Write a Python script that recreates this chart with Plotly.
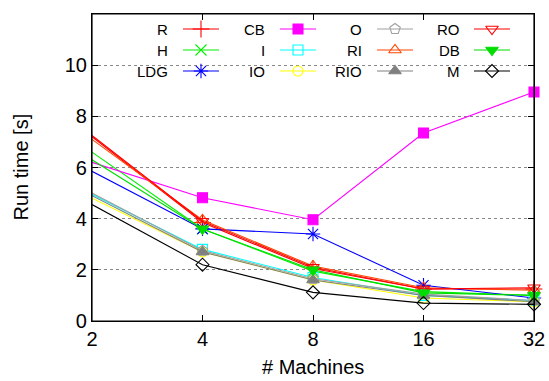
import math
import plotly.graph_objects as go

machines = [2, 4, 8, 16, 32]
tick_labels = ["2", "4", "8", "16", "32"]

R   = [7.20, 3.85, 2.05, 1.25, 1.25]
H   = [6.60, 3.60, 1.95, 1.15, 1.00]
LDG = [5.85, 3.60, 3.40, 1.40, 0.90]
CB  = [6.20, 4.82, 3.96, 7.35, 8.95]
I   = [4.95, 2.80, 1.70, 1.00, 0.80]
IO  = [4.80, 2.70, 1.60, 0.90, 0.75]
O   = [5.00, 2.75, 1.65, 1.05, 0.80]
RI  = [7.10, 3.95, 2.15, 1.30, 1.20]
RIO = [4.90, 2.70, 1.60, 1.00, 0.75]
RO  = [7.25, 3.90, 2.10, 1.25, 1.30]
DB  = [6.30, 3.60, 2.00, 1.10, 1.00]
M   = [4.55, 2.20, 1.12, 0.70, 0.65]

series = [
    ("R", R, "#ff0000", "cross-thin", 12),
    ("H", H, "#00ee00", "x-thin", 11),
    ("LDG", LDG, "#0000ff", "asterisk-open", 12),
    ("CB", CB, "#ff00ff", "square", 10),
    ("I", I, "#00ffff", "square-open", 10),
    ("IO", IO, "#ffff00", "circle-open", 10),
    ("O", O, "#a0a0a0", "pentagon-open", 11),
    ("RI", RI, "#ff4500", "triangle-up-open", 11),
    ("RIO", RIO, "#808080", "triangle-up", 11),
    ("RO", RO, "#ff0000", "triangle-down-open", 11),
    ("DB", DB, "#00dd00", "triangle-down", 11),
    ("M", M, "#000000", "diamond-open", 10),
]

FONT = "Liberation Sans, Arial, sans-serif"
fig = go.Figure()

for name, vals, color, sym, sz in series:
    fig.add_trace(go.Scatter(
        x=machines, y=vals, mode="lines+markers", name=name,
        line=dict(color=color, width=1.1),
        marker=dict(symbol=sym, size=sz, color=color,
                    line=dict(color=color, width=1.1)),
        showlegend=False, cliponaxis=False))

W, Hh = 549, 381
PL, PR, PT, PB = 92, 534, 14, 321
L, Rm, T, B = PL, W - PR, PT, Hh - PB
YMAX = 12.0

def px_to_data(px, py):
    xd = 2 * 2 ** ((px - PL) / ((PR - PL) / 4))
    yd = (PB - py) / ((PB - PT) / YMAX)
    return xd, yd

def px_to_paper(px, py):
    return (px - PL) / (PR - PL), (PB - py) / (PB - PT)

# Manual legend (text right-aligned, then line sample with marker)
col_text_x = [170, 267, 364, 462]
col_line_x = [183, 280, 377, 474]
row_y = [29, 50, 71]

shapes = []
annotations = []
bx0, by0 = px_to_paper(100, 18)
bx1, by1 = px_to_paper(522, 82)
shapes.append(dict(type="rect", xref="paper", yref="paper", x0=bx0, y0=by1, x1=bx1, y1=by0,
                   fillcolor="white", line=dict(width=0), layer="between"))
# plot frame
shapes.append(dict(type="rect", xref="paper", yref="paper", x0=0, y0=0, x1=1, y1=1,
                   line=dict(color="black", width=1.2), layer="above"))

for i, (name, vals, color, sym, sz) in enumerate(series):
    c, r = divmod(i, 3)
    tx, ty = px_to_paper(col_text_x[c], row_y[r])
    annotations.append(dict(x=tx, y=ty, xref="paper", yref="paper", text=name,
                            showarrow=False, xanchor="right", yanchor="middle",
                            font=dict(family=FONT, size=15, color="black")))
    lx0, ly = px_to_data(col_line_x[c], row_y[r])
    lx1, _ = px_to_data(col_line_x[c] + 36, row_y[r])
    lxm, _ = px_to_data(col_line_x[c] + 18, row_y[r])
    fig.add_trace(go.Scatter(
        x=[lx0, lx1], y=[ly, ly], mode="lines",
        line=dict(color=color, width=1.1), showlegend=False, hoverinfo="skip"))
    fig.add_trace(go.Scatter(
        x=[lxm], y=[ly], mode="markers",
        marker=dict(symbol=sym, size=sz, color=color, line=dict(color=color, width=1.1)),
        showlegend=False, hoverinfo="skip"))

# axis titles
annotations.append(dict(x=0.5, y=-(380 - PB) / (PB - PT), xref="paper", yref="paper",
                        text="# Machines", showarrow=False, xanchor="center", yanchor="bottom",
                        font=dict(family=FONT, size=20, color="black")))
annotations.append(dict(x=-(PL - 20) / (PR - PL), y=0.5, xref="paper", yref="paper",
                        text="Run time [s]", showarrow=False, xanchor="center", yanchor="middle",
                        textangle=-90, font=dict(family=FONT, size=20, color="black")))

fig.update_layout(
    width=W, height=Hh,
    margin=dict(l=L, r=Rm, t=T, b=B, autoexpand=False),
    paper_bgcolor="white", plot_bgcolor="white",
    font=dict(family=FONT, size=20, color="black"),
    showlegend=False,
    shapes=shapes, annotations=annotations,
    xaxis=dict(type="log", range=[math.log10(2), math.log10(32)], tickvals=machines,
               ticktext=tick_labels, ticks="inside", ticklen=6, tickcolor="black",
               mirror="allticks", showline=True, linecolor="black", linewidth=1.2,
               showgrid=False, zeroline=False, automargin=False, tickfont=dict(size=20)),
    yaxis=dict(range=[0, YMAX], tickvals=[0, 2, 4, 6, 8, 10], ticks="inside", ticklen=6,
               tickcolor="black", mirror="allticks", showline=True, linecolor="black",
               linewidth=1.2, showgrid=True, gridcolor="#888888", griddash="dot",
               gridwidth=1, zeroline=False, automargin=False, tickfont=dict(size=20)),
)

fig.write_html(
    "out.html",
    config={"displayModeBar": False},
    post_script="document.body.style.margin='0';document.body.style.overflow='hidden';"
                "document.documentElement.style.overflow='hidden';",
)
